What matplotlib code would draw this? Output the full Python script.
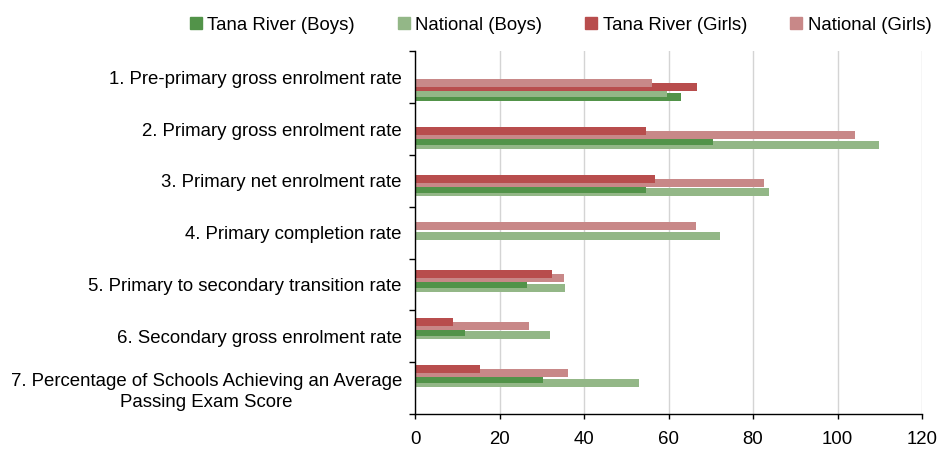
# Tana River vs national education indicators - horizontal overlapping bars

import numpy as np
import matplotlib.pyplot as plt
from matplotlib.patches import Patch

plt.rcParams['font.family'] = ['Liberation Sans', 'DejaVu Sans']

# Data
categories = ['1. Pre-primary gross enrolment rate',
              '2. Primary gross enrolment rate',
              '3. Primary net enrolment rate',
              '4. Primary completion rate',
              '5. Primary to secondary transition rate',
              '6. Secondary gross enrolment rate',
              '7. Percentage of Schools Achieving an Average\nPassing Exam Score']
tana_boys = [62.9, 70.5, 54.7, np.nan, 26.4, 11.8, 30.2]
national_boys = [59.6, 109.7, 83.8, 72.2, 35.4, 31.9, 52.9]
tana_girls = [66.7, 54.7, 56.8, np.nan, 32.3, 9.0, 15.3]
national_girls = [56.1, 104.2, 82.6, 66.5, 35.2, 26.9, 36.3]
x_ticks = [0, 20, 40, 60, 80, 100, 120]

c_tana_boys = '#529349'
c_nat_boys = '#93b787'
c_tana_girls = '#b84d4d'
c_nat_girls = '#c88888'

fig = plt.figure(figsize=(9.39, 4.5), dpi=100)
ax = fig.add_axes([0.442, 0.08, 0.540, 0.8056])

# bar layout (in category units)
h = 0.1545
start = 0.539
step = 0.9205
girl_slots = [0.0, 0.077]
boy_slots = [0.193, 0.261]


def draw_pair(top, vals, colors, slots, z):
    # shorter bar goes in the upper slot and is drawn in front
    pairs = [(v, c) for v, c in zip(vals, colors) if not np.isnan(v)]
    pairs.sort(key=lambda p: p[0])
    for k in range(len(pairs) - 1, -1, -1):
        v, c = pairs[k]
        ax.barh(top + slots[k] + h / 2, v, height=h, color=c,
                zorder=z + (len(pairs) - k))


for i in range(len(categories)):
    top = start + step * i
    draw_pair(top, [tana_boys[i], national_boys[i]],
              [c_tana_boys, c_nat_boys], boy_slots, 2)
    draw_pair(top, [tana_girls[i], national_girls[i]],
              [c_tana_girls, c_nat_girls], girl_slots, 5)

ax.set_xlim(0, 120)
ax.set_ylim(len(categories), 0)
ax.set_xticks(x_ticks)
ax.set_yticks(np.arange(len(categories) + 1))
ax.set_yticklabels([])
ax.set_yticks(np.arange(len(categories)) + 0.5, minor=True)
ax.set_yticklabels(categories, minor=True, fontsize=13.4, ha='right',
                   multialignment='center', linespacing=1.3)
ax.tick_params(axis='y', which='major', direction='out', length=4.3, width=1)
ax.tick_params(axis='y', which='minor', length=0, pad=9.4)
ax.tick_params(axis='x', direction='out', length=3.6, width=1, pad=9,
               labelsize=13.4)

ax.grid(axis='x', color='#d4d4d4', linewidth=1, zorder=0)
ax.set_axisbelow(True)
for s in ['top', 'right']:
    ax.spines[s].set_visible(False)
for s in ['left', 'bottom']:
    ax.spines[s].set_color('black')
    ax.spines[s].set_linewidth(1)
    ax.spines[s].set_zorder(10)

handles = [Patch(color=c_tana_boys, label='Tana River (Boys)'),
           Patch(color=c_nat_boys, label='National (Boys)'),
           Patch(color=c_tana_girls, label='Tana River (Girls)'),
           Patch(color=c_nat_girls, label='National (Girls)')]
fig.legend(handles=handles, loc='center', ncol=4, frameon=False,
           bbox_to_anchor=(0.597, 1 - 25 / 450), fontsize=13.4,
           handlelength=0.65, handleheight=0.65, handletextpad=0.3,
           columnspacing=2.3, borderpad=0, borderaxespad=0)

plt.savefig('out.png', dpi=100)
